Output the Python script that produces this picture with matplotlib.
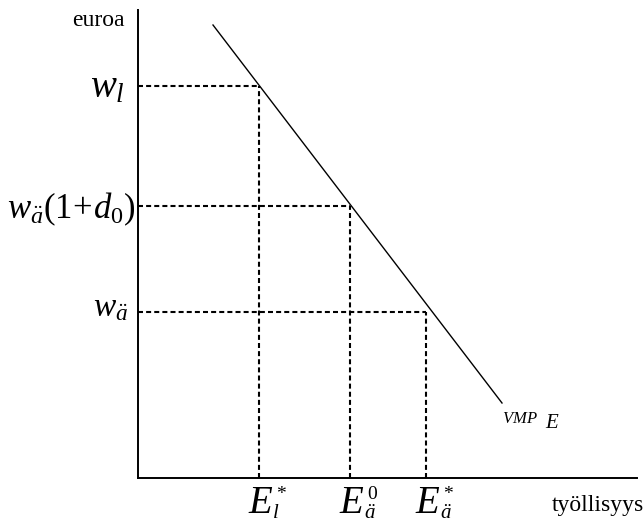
import matplotlib
matplotlib.use('Agg')
import matplotlib.pyplot as plt
from matplotlib.transforms import offset_copy

plt.rcParams['mathtext.fontset'] = 'custom'
plt.rcParams['mathtext.rm'] = 'Liberation Serif'
plt.rcParams['mathtext.it'] = 'Liberation Serif:italic'
plt.rcParams['mathtext.bf'] = 'Liberation Serif:bold'
plt.rcParams['font.family'] = 'Liberation Serif'

# employment levels (x) and wage levels (y), arbitrary units
employment = [121, 212, 288]
wages = [392, 272, 166]
emp_sup = ['*', '0', '*']
emp_sub = ['l', 'ä', 'ä']
wage_labels = [r'$w_l$', r'$w_{\ddot{a}}(1\!+\!d_0)$', r'$w_{\ddot{a}}$']

# VMP_E demand curve end points
vmp_x = [75, 364]
vmp_y = [453, 75]

W, H = 644, 522
fig = plt.figure(figsize=(W / 100, H / 100), dpi=100)
x0, y0 = 138, 478
ax = fig.add_axes([x0 / W, (H - y0) / H, (637 - x0) / W, (y0 - 10) / H])
ax.set_xlim(0, 637 - x0)
ax.set_ylim(0, y0 - 10)
for s in ['top', 'right']:
    ax.spines[s].set_visible(False)
for s in ['left', 'bottom']:
    ax.spines[s].set_linewidth(1.4)
ax.set_xticks([])
ax.set_yticks([])

ax.plot(vmp_x, vmp_y, color='black', lw=1.0)

for e, w in zip(employment, wages):
    ax.plot([0, e], [w, w], color='black', lw=1.5, ls=(0, (2.4, 1.5)))
    ax.plot([e, e], [0, w], color='black', lw=1.5, ls=(0, (2.4, 1.5)))


def px(dx, dy):
    return offset_copy(ax.transData, fig=fig, x=dx, y=dy, units='dots')


for e, sup, sub in zip(employment, emp_sup, emp_sub):
    ax.text(e, 0, 'E', transform=px(-11, -35), ha='left', va='baseline',
            fontsize=28, style='italic', clip_on=False)
    ax.text(e, 0, sup, transform=px(17, -8), ha='left', va='top',
            fontsize=14, clip_on=False)
    ax.text(e, 0, sub, transform=px(14, -40), ha='left', va='baseline',
            fontsize=15, style='italic', clip_on=False)

wage_dx = [-13, -2, -10]
wage_base = [381, 260, 162]
wage_size = [28, 25, 24]
for b, lab, dx, fs in zip(wage_base, wage_labels, wage_dx, wage_size):
    ax.text(dx, b, lab, ha='right', va='baseline', fontsize=fs, clip_on=False)

ax.text(-13, y0 - 20, 'euroa', ha='right', va='center', fontsize=17, clip_on=False)
ax.text(644 - x0, -27, 'työllisyys', ha='right', va='center', fontsize=17, clip_on=False)
ax.text(364, 59, r'$VMP$', ha='left', va='center', fontsize=12, clip_on=False)
ax.text(407, 54, r'$E$', ha='left', va='center', fontsize=15, clip_on=False)

fig.savefig('out.png', dpi=100)
